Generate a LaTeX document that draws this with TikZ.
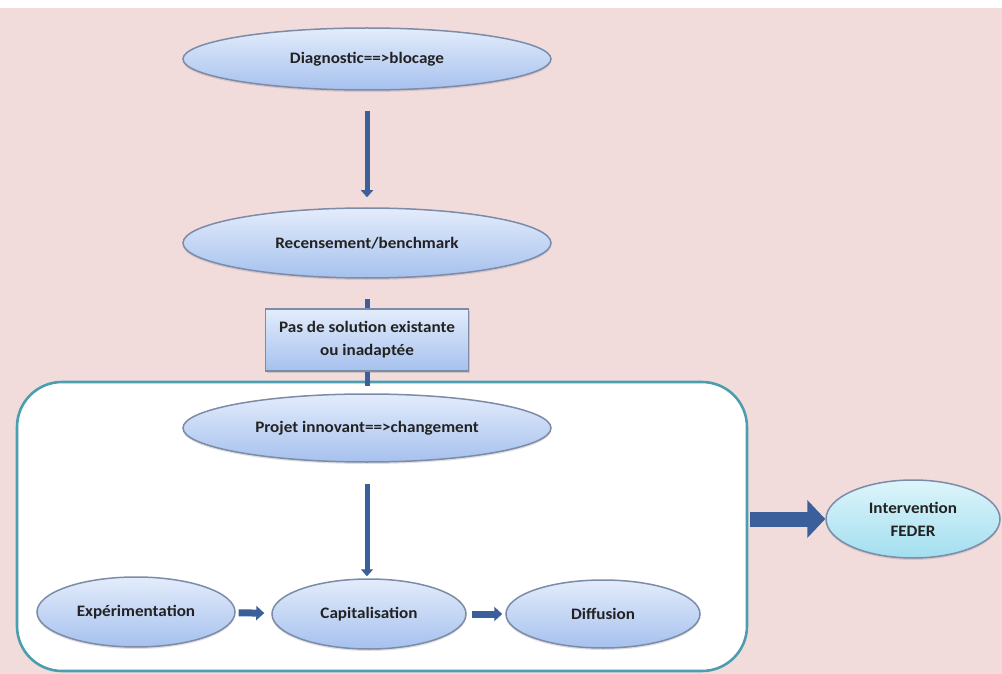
\documentclass[tikz,border=0pt]{standalone}
\usepackage{fontspec}
\setmainfont[FakeStretch=1.07]{Carlito}
\usetikzlibrary{shapes.geometric,arrows.meta,shadows}
\definecolor{bgpink}{HTML}{F2DCDB}
\definecolor{elltop}{HTML}{E3ECFB}
\definecolor{ellbot}{HTML}{A6C1EE}
\definecolor{ellline}{HTML}{7C8CA8}
\definecolor{fedtop}{HTML}{DDF5FB}
\definecolor{fedbot}{HTML}{A3DEEF}
\definecolor{framecol}{HTML}{4A9EAF}
\definecolor{arrcol}{HTML}{3A5F9B}
\definecolor{txtcol}{HTML}{222222}
\tikzset{
  lbl/.style={font=\bfseries\fontsize{16}{23}\selectfont, text=txtcol, align=center},
  ell/.style={ellipse, draw=ellline, line width=1.5pt, top color=elltop, bottom color=ellbot,
     inner sep=0pt, lbl, drop shadow={opacity=0.25, shadow xshift=0pt, shadow yshift=-2pt}},
  fed/.style={ell, top color=fedtop, bottom color=fedbot},
  solbox/.style={rectangle, draw=ellline, line width=1.5pt, top color=elltop, bottom color=ellbot,
     inner sep=0pt, lbl, drop shadow={opacity=0.3, shadow xshift=1pt, shadow yshift=-2pt}},
  frame/.style={rectangle, rounded corners=45pt, draw=framecol, line width=2.6pt, fill=white, inner sep=0pt},
  varr/.style={draw=arrcol, line width=5pt, -{Triangle[width=12pt,length=7pt]}},
  stub/.style={draw=arrcol, line width=5pt},
  harr/.style={draw=arrcol, line width=7pt, -{Triangle[width=14pt,length=8pt]}},
  bigarr/.style={draw=arrcol, line width=15pt, -{Triangle[width=37pt,length=18pt]}}
}
\begin{document}
\begin{tikzpicture}[x=1pt,y=-1pt]
\useasboundingbox (0,0) rectangle (1002,674);
\fill[bgpink] (0,8) rectangle (1002,674);
\fill[white] (0,0) rectangle (1002,8);

\node[frame, minimum width=730pt, minimum height=289pt] (frame) at (382,526.5) {};

\node[ell, minimum width=368pt, minimum height=62pt] (diag) at (367,59) {Diagnostic==>blocage};
\node[ell, minimum width=368pt, minimum height=70pt] (rec) at (367,243) {Recensement/benchmark};
\node[solbox, minimum width=203pt, minimum height=62pt] (sol) at (367,340) {Pas de solution existante\\ou inadaptée};
\node[ell, minimum width=368pt, minimum height=68pt] (proj) at (367,428) {Projet innovant==>changement};
\node[ell, minimum width=198pt, minimum height=70pt] (exp) at (136,612) {Expérimentation};
\node[ell, minimum width=194pt, minimum height=70pt] (cap) at (369,614) {Capitalisation};
\node[ell, minimum width=194pt, minimum height=68pt] (dif) at (603,614) {Diffusion};
\node[fed, minimum width=174pt, minimum height=78pt] (feder) at (913,519) {Intervention\\FEDER};

\draw[varr, shorten <=20pt, shorten >=10pt] (diag) -- (rec);
\draw[stub, shorten <=20pt] (rec) -- (sol);
\draw[stub, shorten >=7pt] (sol) -- (proj);
\draw[varr, shorten <=21pt, shorten >=2pt] (proj) -- (proj |- cap.north);
\draw[harr, shorten <=3pt, shorten >=7pt] (exp) -- (cap);
\draw[harr, shorten <=5pt, shorten >=3pt] (cap) -- (dif);
\draw[bigarr, shorten <=2pt] (feder.west -| frame.east) -- (feder.west);
\end{tikzpicture}
\end{document}
